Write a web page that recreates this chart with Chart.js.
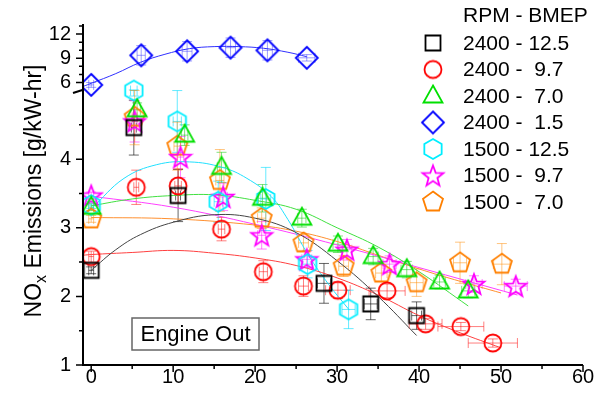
<!DOCTYPE html>
<html>
<head>
<meta charset="utf-8">
<script src="https://cdn.jsdelivr.net/npm/chart.js@4.4.1/dist/chart.umd.min.js"></script>
<style>
html, body { margin: 0; padding: 0; background: #fff; }
</style>
</head>
<body>
<canvas id="myChart" width="610" height="395"></canvas>
<script>
// series labels (legend order)
const seriesNames = ["2400 - 12.5", "2400 -  9.7", "2400 -  7.0", "2400 -  1.5",
                     "1500 - 12.5", "1500 -  9.7", "1500 -  7.0"];

// 2400 - 12.5
const x2400_125 = [0, 5.2, 10.6, 28.4, 34.1, 39.7];
const y2400_125 = [2.38, 4.46, 3.47, 2.19, 1.89, 1.72];
const ey2400_125 = [0.05, 0.4, 0.38, 0.29, 0.23, 0.2];
const ex2400_125 = [0.3, 0.3, 0.3, 0.8, 0.8, 0.6];
const fx2400_125 = [0, 3, 6, 10, 15, 20, 25, 30, 35, 39.7];
const fy2400_125 = [2.38, 2.68, 2.9, 3.08, 3.19, 3.14, 2.93, 2.52, 2.0, 1.43];

// 2400 - 9.7
const x2400_97 = [0, 5.5, 10.6, 15.9, 21.0, 25.9, 30.1, 36.1, 40.8, 45.1, 49.0];
const y2400_97 = [2.58, 3.59, 3.61, 2.98, 2.36, 2.15, 2.09, 2.08, 1.60, 1.56, 1.32];
const ey2400_97 = [0.08, 0.25, 0.25, 0.17, 0.16, 0.15, 0.12, 0.1, 0.08, 0.06, 0.06];
const ex2400_97 = [0.3, 0.3, 0.4, 0.4, 0.5, 0.6, 1.5, 2.2, 2.0, 2.8, 3.0];
const fx2400_97 = [-1, 0, 5, 10, 15, 20, 25, 30, 35, 40, 45, 50];
const fy2400_97 = [2.6, 2.61, 2.64, 2.67, 2.63, 2.56, 2.45, 2.27, 2.02, 1.72, 1.47, 1.25];

// 2400 - 7.0
const x2400_70 = [0, 5.6, 11.4, 15.9, 20.9, 25.7, 30.1, 34.4, 38.5, 42.5, 46.0];
const y2400_70 = [3.3, 4.72, 4.35, 3.88, 3.43, 3.14, 2.76, 2.58, 2.39, 2.21, 2.08];
const ey2400_70 = [0.05, 0.1, 0.15, 0.22, 0.2, 0.13, 0.12, 0.12, 0.12, 0.1, 0.1];
const ex2400_70 = [0.3, 0.4, 0.4, 0.5, 0.5, 0.5, 0.6, 0.6, 0.7, 0.7, 0.8];
const fx2400_70 = [0, 5, 10, 15, 20, 25, 30, 35, 40, 46];
const fy2400_70 = [3.32, 3.42, 3.47, 3.48, 3.40, 3.27, 3.0, 2.72, 2.36, 1.86];

// 2400 - 1.5
const x2400_15 = [0, 6.1, 11.7, 17.0, 21.5, 26.3];
const y2400_15 = [5.7, 9.37, 9.87, 10.32, 9.99, 9.06];
const ey2400_15 = [0.3, 1.2, 1.2, 1.2, 1.2, 0.4];
const ex2400_15 = [0.3, 0.5, 0.6, 0.6, 0.6, 1.0];
const fx2400_15 = [-1, 0, 3, 6, 9, 12, 15, 18, 21, 24, 26.3];
const fy2400_15 = [5.5, 5.9, 7.1, 8.5, 9.5, 10.2, 10.45, 10.45, 10.25, 9.75, 9.2];

// 1500 - 12.5
const x1500_125 = [0, 5.2, 10.5, 15.5, 21.3, 26.4, 31.4];
const y1500_125 = [3.33, 5.0, 4.55, 3.38, 3.42, 2.47, 1.81];
const ey1500_125 = [0.05, 0.08, 0.45, 0.3, 0.46, 0.2, 0.28];
const ex1500_125 = [0.3, 0.4, 0.5, 0.5, 0.6, 0.6, 0.8];
const fx1500_125 = [-1, 0, 4, 8, 12, 16, 19, 22, 24, 26.5, 29, 31.5];
const fy1500_125 = [3.2, 3.28, 3.72, 3.92, 3.96, 3.88, 3.72, 3.45, 3.12, 2.6, 2.17, 1.8];

// 1500 - 9.7
const x1500_97 = [0, 5.3, 10.9, 16.1, 20.8, 26.3, 31.2, 36.4, 46.7, 51.8];
const y1500_97 = [3.47, 4.55, 4.03, 3.45, 2.89, 2.54, 2.68, 2.47, 2.18, 2.15];
const ey1500_97 = [0.05, 0.3, 0.3, 0.2, 0.2, 0.12, 0.15, 0.12, 0.12, 0.1];
const ex1500_97 = [0.3, 0.3, 0.4, 0.5, 0.5, 0.6, 0.6, 0.8, 1.0, 1.4];
const fx1500_97 = [0, 10, 20, 30, 40, 52];
const fy1500_97 = [3.46, 3.3, 3.05, 2.75, 2.42, 2.02];

// 1500 - 7.0
const x1500_70 = [0, 5.3, 10.5, 15.7, 20.8, 25.9, 30.8, 35.4, 39.7, 45.0, 50.1];
const y1500_70 = [3.13, 4.61, 4.19, 3.69, 3.14, 2.78, 2.44, 2.34, 2.20, 2.49, 2.47];
const ey1500_70 = [0.05, 0.4, 0.35, 0.45, 0.15, 0.12, 0.15, 0.12, 0.2, 0.3, 0.3];
const ex1500_70 = [0.3, 0.3, 0.4, 0.5, 0.5, 0.6, 0.6, 0.7, 0.8, 0.8, 1.0];
const fx1500_70 = [0, 10, 20, 25, 30, 35, 40, 45, 50];
const fy1500_70 = [3.15, 3.13, 3.04, 2.95, 2.8, 2.6, 2.4, 2.22, 2.05];

// axis ticks
const xTicks = [0, 10, 20, 30, 40, 50, 60];
const xMinorTicks = [5, 15, 25, 35, 45, 55];
const yTicks = [1, 2, 3, 4, 6, 9, 12];
const yTickLabels = ["1", "2", "3", "4", "6", "9", "12"];
const yMinorTicks = [1.5, 2.5, 3.5, 4.5, 7, 8, 10, 11, 13];

const colors = ["#000000", "#ff0000", "#00e000", "#0000ff", "#00eeff", "#ff00ff", "#ff8000"];
const fitColors = ["#444444", "#ff4040", "#40e040", "#3030ff", "#20e0ff", "#ff40ff", "#ff9030"];
const barColors = ["rgba(0,0,0,0.6)", "rgba(255,0,0,0.5)", "rgba(0,200,0,0.5)", "rgba(60,60,255,0.5)",
                   "rgba(0,220,255,0.6)", "rgba(255,0,255,0.5)", "rgba(255,140,0,0.5)"];
const shapes = ["square", "circle", "triangle", "diamond", "hexagon", "star", "pentagon"];

const xs = [x2400_125, x2400_97, x2400_70, x2400_15, x1500_125, x1500_97, x1500_70];
const ys = [y2400_125, y2400_97, y2400_70, y2400_15, y1500_125, y1500_97, y1500_70];
const eys = [ey2400_125, ey2400_97, ey2400_70, ey2400_15, ey1500_125, ey1500_97, ey1500_70];
const exs = [ex2400_125, ex2400_97, ex2400_70, ex2400_15, ex1500_125, ex1500_97, ex1500_70];
const fxs = [fx2400_125, fx2400_97, fx2400_70, fx2400_15, fx1500_125, fx1500_97, fx1500_70];
const fys = [fy2400_125, fy2400_97, fy2400_70, fy2400_15, fy1500_125, fy1500_97, fy1500_70];

// broken y axis: linear up to 5, compressed above
const BREAK = 5, UPPER = 0.1175;
function dy(v) {
    return v <= BREAK ? v : BREAK + (v - BREAK) * UPPER;
}

const FONT = "'Liberation Sans', Arial, sans-serif";

function polygon(ctx, c, r, n, rot) {
    ctx.beginPath();
    for (let k = 0; k < n; k++) {
        const a = rot + k * 2 * Math.PI / n;
        const px = c + r * Math.cos(a), py = c + r * Math.sin(a);
        if (k === 0) ctx.moveTo(px, py); else ctx.lineTo(px, py);
    }
    ctx.closePath();
}

function makeMarker(shape, color) {
    const cv = document.createElement("canvas");
    cv.width = 26;
    cv.height = 26;
    const ctx = cv.getContext("2d");
    const c = 13;
    ctx.strokeStyle = color;
    ctx.lineWidth = 1.8;
    ctx.lineJoin = "miter";
    if (shape === "square") {
        ctx.beginPath();
        ctx.rect(c - 7.5, c - 7.5, 15, 15);
    } else if (shape === "circle") {
        ctx.beginPath();
        ctx.arc(c, c, 8.5, 0, 2 * Math.PI);
    } else if (shape === "triangle") {
        ctx.beginPath();
        ctx.moveTo(c, c - 10.5);
        ctx.lineTo(c + 9.5, c + 6.5);
        ctx.lineTo(c - 9.5, c + 6.5);
        ctx.closePath();
    } else if (shape === "diamond") {
        polygon(ctx, c, 11, 4, -Math.PI / 2);
    } else if (shape === "hexagon") {
        polygon(ctx, c, 10, 6, -Math.PI / 2);
    } else if (shape === "pentagon") {
        polygon(ctx, c, 10.5, 5, -Math.PI / 2);
    } else if (shape === "star") {
        ctx.beginPath();
        for (let k = 0; k < 10; k++) {
            const r = (k % 2 === 0) ? 11 : 4.6;
            const a = -Math.PI / 2 + k * Math.PI / 5;
            const px = c + r * Math.cos(a), py = c + 1 + r * Math.sin(a);
            if (k === 0) ctx.moveTo(px, py); else ctx.lineTo(px, py);
        }
        ctx.closePath();
    }
    ctx.stroke();
    return cv;
}

const markers = shapes.map((s, i) => makeMarker(s, colors[i]));

const datasets = [];
for (let i = 0; i < seriesNames.length; i++) {
    datasets.push({
        label: seriesNames[i],
        data: xs[i].map((x, j) => ({ x: x, y: dy(ys[i][j]) })),
        pointStyle: markers[i],
        pointRadius: 10,
        showLine: false,
        order: 1
    });
    datasets.push({
        label: seriesNames[i] + " fit",
        data: fxs[i].map((x, j) => ({ x: x, y: dy(fys[i][j]) })),
        showLine: true,
        borderColor: fitColors[i],
        borderWidth: 1,
        pointRadius: 0,
        tension: 0.4,
        order: 2
    });
}

const decorations = {
    id: "decorations",
    beforeDatasetsDraw(chart) {
        const ctx = chart.ctx;
        const xs_ = chart.scales.x, ys_ = chart.scales.y;
        ctx.save();
        ctx.lineWidth = 1;
        for (let i = 0; i < xs.length; i++) {
            ctx.strokeStyle = barColors[i];
            for (let j = 0; j < xs[i].length; j++) {
                const x = xs[i][j], y = ys[i][j];
                const px = xs_.getPixelForValue(x);
                const py = ys_.getPixelForValue(dy(y));
                const top = ys_.getPixelForValue(dy(y + eys[i][j]));
                const bot = ys_.getPixelForValue(dy(y - eys[i][j]));
                const l = xs_.getPixelForValue(x - exs[i][j]);
                const r = xs_.getPixelForValue(x + exs[i][j]);
                ctx.beginPath();
                ctx.moveTo(px, top); ctx.lineTo(px, bot);
                ctx.moveTo(px - 5, top); ctx.lineTo(px + 5, top);
                ctx.moveTo(px - 5, bot); ctx.lineTo(px + 5, bot);
                ctx.moveTo(l, py); ctx.lineTo(r, py);
                ctx.moveTo(l, py - 5); ctx.lineTo(l, py + 5);
                ctx.moveTo(r, py - 5); ctx.lineTo(r, py + 5);
                ctx.stroke();
            }
        }
        ctx.restore();
    },
    afterDraw(chart) {
        const ctx = chart.ctx;
        const a = chart.chartArea;
        const sx = chart.scales.x, sy = chart.scales.y;
        ctx.save();
        // axes
        ctx.strokeStyle = "#000";
        ctx.lineWidth = 2;
        ctx.beginPath();
        ctx.moveTo(a.left, a.top);
        ctx.lineTo(a.left, a.bottom);
        ctx.lineTo(a.right, a.bottom);
        ctx.stroke();
        ctx.lineWidth = 1.5;
        ctx.beginPath();
        for (const v of xTicks) {
            const p = sx.getPixelForValue(v);
            ctx.moveTo(p, a.bottom); ctx.lineTo(p, a.bottom + 7);
        }
        for (const v of xMinorTicks) {
            const p = sx.getPixelForValue(v);
            ctx.moveTo(p, a.bottom); ctx.lineTo(p, a.bottom + 4);
        }
        for (const v of yTicks) {
            const p = sy.getPixelForValue(dy(v));
            ctx.moveTo(a.left, p); ctx.lineTo(a.left - 7, p);
        }
        for (const v of yMinorTicks) {
            const p = sy.getPixelForValue(dy(v));
            ctx.moveTo(a.left, p); ctx.lineTo(a.left - 4, p);
        }
        ctx.stroke();
        // axis break mark
        const pb = sy.getPixelForValue(dy(BREAK));
        ctx.lineWidth = 2;
        ctx.beginPath();
        ctx.moveTo(a.left - 10, pb + 2.5);
        ctx.lineTo(a.left + 1, pb - 1);
        ctx.stroke();

        // y axis title with subscript
        ctx.fillStyle = "#000";
        ctx.translate(41, 191);
        ctx.rotate(-Math.PI / 2);
        ctx.textBaseline = "alphabetic";
        ctx.textAlign = "left";
        const big = "23px " + FONT, small = "16px " + FONT;
        ctx.font = big;
        const w1 = ctx.measureText("NO").width;
        const w3 = ctx.measureText(" Emissions [g/kW-hr]").width;
        ctx.font = small;
        const w2 = ctx.measureText("x").width;
        let tx = -(w1 + w2 + w3) / 2;
        ctx.font = big;
        ctx.fillText("NO", tx, 0);
        ctx.font = small;
        ctx.fillText("x", tx + w1, 5);
        ctx.font = big;
        ctx.fillText(" Emissions [g/kW-hr]", tx + w1 + w2, 0);
        ctx.setTransform(1, 0, 0, 1, 0, 0);

        // legend
        ctx.font = "21px " + FONT;
        ctx.textBaseline = "middle";
        ctx.fillStyle = "#000";
        ctx.fillText("RPM - BMEP", 463, 16);
        for (let i = 0; i < seriesNames.length; i++) {
            const yy = 43 + i * 26.5;
            ctx.drawImage(markers[i], 433 - 13, yy - 13);
            ctx.fillText(seriesNames[i], 463, yy + 1);
        }

        // annotation box
        ctx.strokeStyle = "#666";
        ctx.lineWidth = 1.5;
        ctx.strokeRect(132, 318, 127, 32);
        ctx.font = "22px " + FONT;
        ctx.textAlign = "center";
        ctx.fillText("Engine Out", 195.5, 335);
        ctx.restore();
    }
};

const ctx = document.getElementById("myChart").getContext("2d");
const myChart = new Chart(ctx, {
    type: "scatter",
    data: { datasets: datasets },
    options: {
        responsive: false,
        animation: false,
        events: [],
        layout: { padding: { top: 20, right: 27, left: 0, bottom: 0 } },
        plugins: {
            legend: { display: false },
            tooltip: { enabled: false }
        },
        scales: {
            x: {
                type: "linear",
                min: -1,
                max: 60,
                grid: { display: false, drawTicks: false },
                border: { display: false },
                ticks: { color: "#000", font: { family: FONT, size: 20 }, padding: 0, maxRotation: 0 },
                afterBuildTicks: s => { s.ticks = xTicks.map(v => ({ value: v })); },
                afterFit: s => { s.height = 30; }
            },
            y: {
                type: "linear",
                min: 1,
                max: 5.97,
                grid: { display: false, drawTicks: false },
                border: { display: false },
                ticks: {
                    color: "#000",
                    font: { family: FONT, size: 20 },
                    padding: 12,
                    autoSkip: false,
                    callback: (v, i) => yTickLabels[i]
                },
                afterBuildTicks: s => { s.ticks = yTicks.map(v => ({ value: dy(v) })); },
                afterFit: s => { s.width = 83; }
            }
        }
    },
    plugins: [decorations]
});
</script>
</body>
</html>
